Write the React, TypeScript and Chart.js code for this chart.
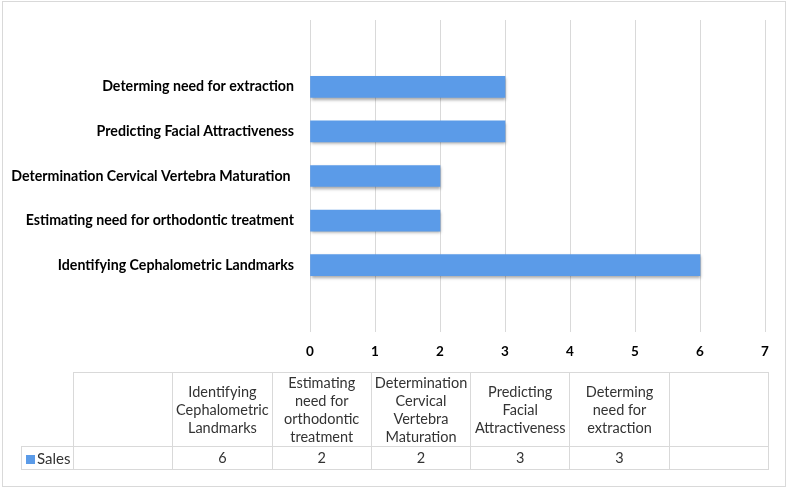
import React, { useEffect, useRef } from "react";
import { Chart, registerables } from "chart.js";

Chart.register(...registerables);

const categories: string[] = [
  "",
  "Identifying Cephalometric Landmarks",
  "Estimating need for orthodontic treatment",
  "Determination Cervical Vertebra Maturation ",
  "Predicting Facial Attractiveness",
  "Determing need for extraction",
  "",
];
const salesValues: (number | null)[] = [null, 6, 2, 2, 3, 3, null];
const seriesName = "Sales";
const xMin = 0;
const xMax = 7;
const xStep = 1;

const barColor = "#5b9be8";
const gridColor = "#d9d9d9";
const fontFamily = "Lato, 'Liberation Sans', sans-serif";

const shadowPlugin = {
  id: "barShadow",
  beforeDatasetsDraw(chart: any) {
    const ctx = chart.ctx;
    ctx.save();
    ctx.shadowColor = "rgba(0,0,0,0.35)";
    ctx.shadowBlur = 3;
    ctx.shadowOffsetX = 1;
    ctx.shadowOffsetY = 2;
  },
  afterDatasetsDraw(chart: any) {
    chart.ctx.restore();
  },
};

export default function App() {
  const canvasRef = useRef<HTMLCanvasElement | null>(null);

  useEffect(() => {
    document.body.style.margin = "0";
    if (!canvasRef.current) return;
    const chart = new Chart(canvasRef.current, {
      type: "bar",
      data: {
        labels: categories,
        datasets: [
          {
            label: seriesName,
            data: salesValues,
            backgroundColor: barColor,
            borderWidth: 0,
            barThickness: 21,
          },
        ],
      },
      options: {
        indexAxis: "y",
        animation: false,
        responsive: false,
        layout: { padding: { left: 0, top: 20, right: 24, bottom: 118 } },
        plugins: {
          legend: { display: false },
          tooltip: { enabled: false },
        },
        scales: {
          x: {
            type: "linear",
            min: xMin,
            max: xMax,
            ticks: {
              stepSize: xStep,
              padding: 12,
              color: "#000",
              font: { family: fontFamily, size: 13.5, weight: "bold" },
            },
            grid: { color: gridColor, drawTicks: false, lineWidth: 1 },
            border: { display: false },
            afterFit: (scale: any) => {
              scale.height = 40;
            },
          },
          y: {
            type: "category",
            reverse: true,
            ticks: {
              padding: 8,
              color: "#000",
              autoSkip: false,
              font: { family: fontFamily, size: 14.2, weight: "bold" },
            },
            grid: { display: false },
            border: { display: false },
            afterFit: (scale: any) => {
              scale.width = 310;
            },
          },
        },
      },
      plugins: [shadowPlugin],
    });
    return () => chart.destroy();
  }, []);

  const cellBorder = `1px solid ${gridColor}`;
  const colW = (768 - 73) / categories.length;

  return (
    <div style={{ position: "relative", width: 789, height: 490, background: "#fff" }}>
      <div
        style={{
          position: "absolute",
          left: 2,
          top: 1,
          width: 782,
          height: 484,
          border: cellBorder,
        }}
      />
      <canvas
        ref={canvasRef}
        width={789}
        height={490}
        style={{ position: "absolute", left: 0, top: 0, width: 789, height: 490 }}
      />
      <table
        style={{
          position: "absolute",
          left: 21,
          top: 372,
          width: 747,
          borderCollapse: "collapse",
          tableLayout: "fixed",
          fontFamily,
          fontSize: 14.5,
          color: "#333",
        }}
      >
        <colgroup>
          <col style={{ width: 52 }} />
          {categories.map((_, i) => (
            <col key={i} style={{ width: colW }} />
          ))}
        </colgroup>
        <tbody>
          <tr style={{ height: 74 }}>
            <td style={{ borderBottom: cellBorder, padding: 0 }} />
            {categories.map((c, i) => (
              <td
                key={i}
                style={{
                  border: cellBorder,
                  textAlign: "center",
                  verticalAlign: "middle",
                  lineHeight: "18px",
                  padding: "0 2px",
                }}
              >
                {c}
              </td>
            ))}
          </tr>
          <tr style={{ height: 23 }}>
            <td style={{ border: cellBorder, padding: "0 0 0 4px", whiteSpace: "nowrap", lineHeight: "20px", fontSize: 15 }}>
              <span
                style={{
                  display: "inline-block",
                  width: 9,
                  height: 9,
                  background: barColor,
                  marginRight: 2,
                  verticalAlign: "middle",
                  position: "relative",
                  top: -1,
                }}
              />
              {seriesName}
            </td>
            {salesValues.map((v, i) => (
              <td
                key={i}
                style={{ border: cellBorder, textAlign: "center", lineHeight: "20px", padding: 0 }}
              >
                {v === null ? "" : v}
              </td>
            ))}
          </tr>
        </tbody>
      </table>
    </div>
  );
}
